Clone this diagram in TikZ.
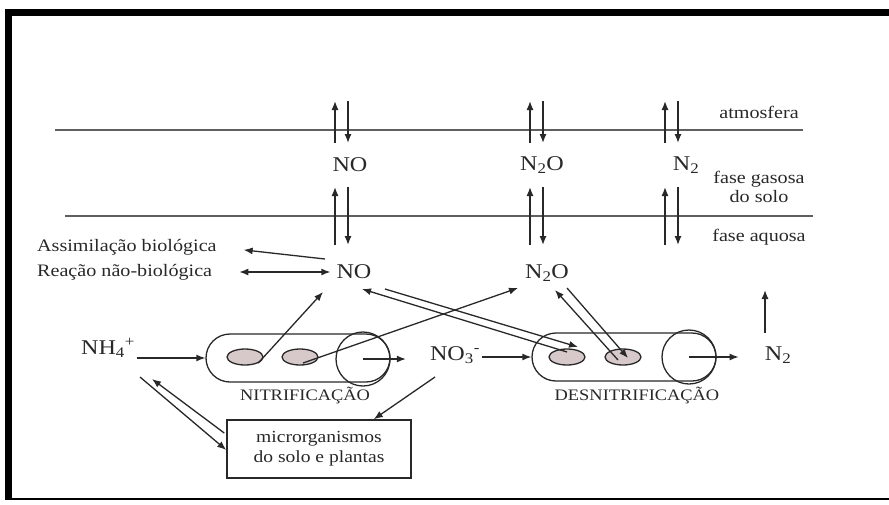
\documentclass[tikz,border=0pt]{standalone}
\usepackage{fontspec}
\setmainfont{Liberation Serif}[FakeStretch=1.15]
\usetikzlibrary{arrows.meta,shapes.geometric,shapes.misc}
\definecolor{ink}{RGB}{40,40,40}
\definecolor{cellfill}{RGB}{215,201,202}
\definecolor{phase}{RGB}{95,95,95}
\tikzset{
  arr/.style={draw=ink,line width=1.3pt,-{Latex[length=9pt,width=7pt]}},
  darr/.style={draw=ink,line width=1.3pt,{Latex[length=9pt,width=7pt]}-{Latex[length=9pt,width=7pt]}},
  lbl/.style={text=ink,font=\fontsize{17.5}{19}\selectfont,inner sep=1pt},
  chem/.style={text=ink,font=\fontsize{21}{24}\selectfont,inner sep=2pt},
  proc/.style={text=ink,font=\fontsize{16}{18}\selectfont,inner sep=1pt},
  tube/.style={draw=ink,line width=1.3pt,rounded rectangle,minimum width=184pt,minimum height=48pt,inner sep=0pt},
  ring/.style={draw=ink,line width=1.3pt,circle,minimum size=54pt,inner sep=0pt},
  cell/.style={draw=ink,line width=1.3pt,fill=cellfill,ellipse,minimum width=36pt,minimum height=16pt,inner sep=0pt},
  organbox/.style={draw=ink,line width=1.5pt,minimum width=184pt,minimum height=58pt,align=center,
    text=ink,font=\fontsize{17}{20}\selectfont}
}
\begin{document}
\begin{tikzpicture}[x=1pt,y=-1pt]
    \useasboundingbox (0,0) rectangle (889,504);
    % frame
    \fill[black] (5,9) rectangle (889,16);
    \fill[black] (5,9) rectangle (12,500);
    \draw[black,line width=2pt] (5,499) -- (889,499);

    % phase boundaries
    \draw[phase,line width=2pt] (55,130) -- (803,130);
    \draw[phase,line width=2pt] (65,216) -- (813,216);

    \node[lbl] (atm) at (759,112) {atmosfera};
    \node[lbl,align=center] (gas) at (759,187) {fase gasosa\\do solo};
    \node[lbl] (aq) at (759,237) {fase aquosa};

    % gases in the soil air
    \node[chem] (gNO) at (350,165) {NO};
    \node[chem] (gNtwoO) at (542,165) {N\textsubscript{2}O};
    \node[chem] (gNtwo) at (686,165) {N\textsubscript{2}};

    \foreach \x in {341,536,671}
    {
        \draw[arr] (\x-6,143) -- (\x-6,101);
        \draw[arr] (\x+7,101) -- (\x+7,143);
        \draw[arr] (\x-6,245) -- (\x-6,187);
        \draw[arr] (\x+7,187) -- (\x+7,245);
    }

    % aqueous phase
    \node[lbl,anchor=west] (assim) at (36,247) {Assimilação biológica};
    \node[lbl,anchor=west] (reac) at (36,272) {Reação não-biológica};
    \node[chem] (aqNO) at (354,272) {NO};
    \node[chem] (aqNtwoO) at (547,273) {N\textsubscript{2}O};

    \node[chem] (nh) at (108,348) {NH\textsubscript{4}\textsuperscript{+}};
    \node[chem] (no) at (455,355) {NO\textsubscript{3}\textsuperscript{-}};
    \node[chem] (ntwo) at (778,355) {N\textsubscript{2}};

    % nitrification
    \node[tube] (nit) at (298,358) {};
    \node[ring] (nitc) at (363,359) {};
    \node[cell] (n1) at (245,357) {};
    \node[cell] (n2) at (300,357) {};
    \node[proc] (nitlab) at (305,396) {NITRIFICAÇÃO};

    % denitrification
    \node[tube] (den) at (624,357) {};
    \node[ring] (denc) at (689,357) {};
    \node[cell] (d1) at (567,357) {};
    \node[cell] (d2) at (623,357) {};
    \node[proc] (denlab) at (637,396) {DESNITRIFICAÇÃO};

    \node[organbox] (box) at (319,449) {microrganismos\\do solo e plantas};

    % connectors
    \draw[arr,shorten >=26pt] ([shift={(-29,-13)}]aqNO.center) -- (assim.east);
    \draw[darr,shorten <=26pt,shorten >=4pt] (reac.east) -- (aqNO.west);
    \draw[arr] (nh.east |- nit.west) -- (nit.west);
    \draw[arr] (n1.-25) -- ([shift={(-31,20)}]aqNO.center);
    \draw[arr] ([shift={(3,6)}]n2.center) -- ([shift={(-29,15)}]aqNtwoO.center);
    \draw[arr,shorten >=22pt] (nitc.center) -- (nitc.center -| no.west);
    \draw[arr] (no.east |- den.west) -- (den.west);
    \draw[arr,shorten >=24pt] (denc.center) -- (denc.center -| ntwo.west);
    \draw[arr] ([shift={(-13,-22)}]ntwo.center) -- ([shift={(-13,-65)}]ntwo.center);

    \draw[arr] ([shift={(31,17)}]aqNO.center) -- ([shift={(11,-10)}]d1.center);
    \draw[arr] ([shift={(0,-5)}]d1.center) -- ([shift={(8,17)}]aqNO.center);
    \draw[arr] ([shift={(-5,3)}]d2.center) -- ([shift={(8,17)}]aqNtwoO.center);
    \draw[arr] ([shift={(20,15)}]aqNtwoO.center) -- ([shift={(5,1)}]d2.center);

    \draw[arr] ([shift={(-20,22)}]no.center) -- ([shift={(-38,0)}]box.north east);
    \draw[arr] ([shift={(-2,-16)}]box.west) -- ([shift={(44,31)}]nh.center);
    \draw[arr] ([shift={(32,29)}]nh.center) -- ([shift={(0,1)}]box.west);
\end{tikzpicture}
\end{document}
